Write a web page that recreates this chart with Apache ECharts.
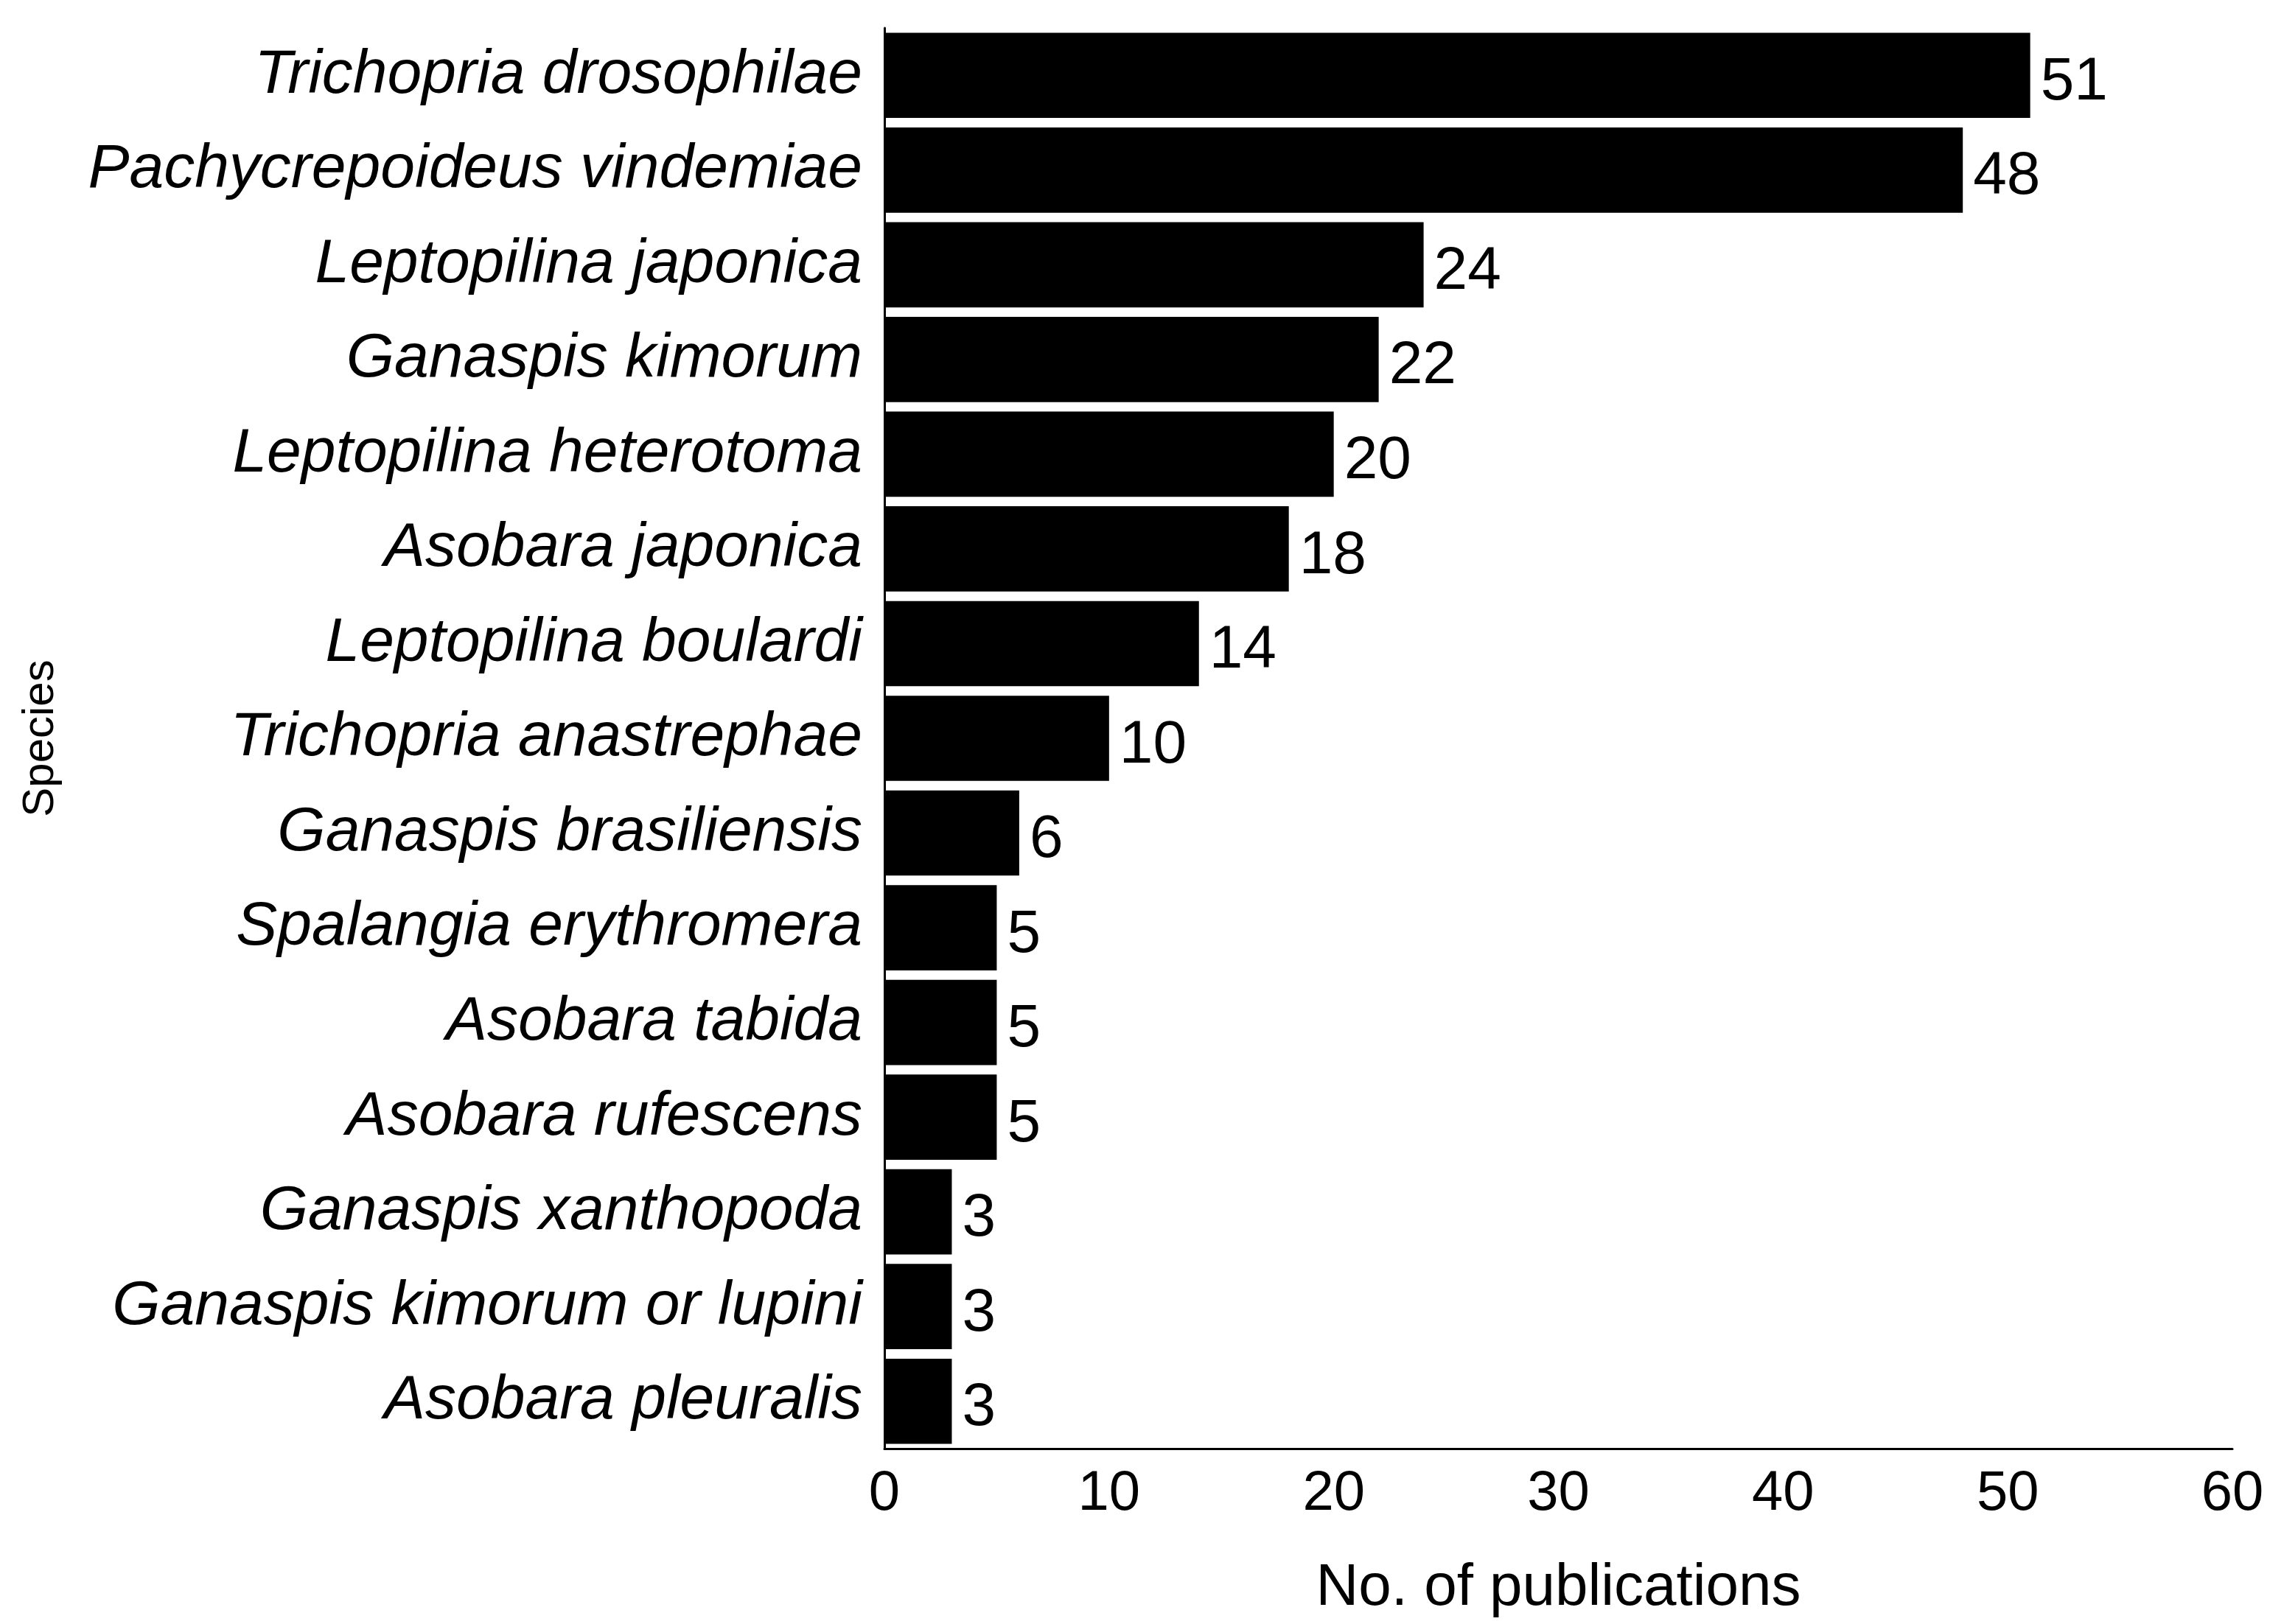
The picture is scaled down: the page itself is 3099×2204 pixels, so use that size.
<!DOCTYPE html>
<html><head><meta charset="utf-8">
<script src="https://cdn.jsdelivr.net/npm/echarts@6/dist/echarts.min.js"></script>
<style>html,body{margin:0;padding:0;background:#fff}#c{width:3099px;height:2204px}</style>
</head><body><div id="c"></div>
<script>
const species = ["Trichopria drosophilae","Pachycrepoideus vindemiae","Leptopilina japonica","Ganaspis kimorum","Leptopilina heterotoma","Asobara japonica","Leptopilina boulardi","Trichopria anastrephae","Ganaspis brasiliensis","Spalangia erythromera","Asobara tabida","Asobara rufescens","Ganaspis xanthopoda","Ganaspis kimorum or lupini","Asobara pleuralis"];
const counts = [51,48,24,22,20,18,14,10,6,5,5,5,3,3,3];
const xTicks = [0,10,20,30,40,50,60];
const chart = echarts.init(document.getElementById('c'));
const F = 'Liberation Sans, Arial, sans-serif';
chart.setOption({
  animation:false,
  grid:{left:1200,right:70,top:38,bottom:238},
  xAxis:{type:'value',min:xTicks[0],max:xTicks[xTicks.length-1],interval:10,
    name:'No. of publications',nameLocation:'middle',nameGap:150,
    nameTextStyle:{fontFamily:F,fontSize:80,color:'#000'},
    axisLine:{show:true,lineStyle:{color:'#000',width:3}},axisTick:{show:false},
    splitLine:{show:false},
    axisLabel:{fontFamily:F,fontSize:76,color:'#000',margin:24}},
  yAxis:{type:'category',inverse:true,data:species,
    name:'Species',nameLocation:'middle',nameGap:1115,nameRotate:90,
    nameTextStyle:{fontFamily:F,fontSize:60,color:'#000'},
    axisLine:{show:true,lineStyle:{color:'#000',width:3}},axisTick:{show:false},
    axisLabel:{fontFamily:F,fontSize:84,fontStyle:'italic',color:'#000',margin:30}},
  series:[{type:'bar',data:counts,barCategoryGap:'10%',itemStyle:{color:'#000'},
    label:{show:true,position:'right',distance:14,fontFamily:F,fontSize:82,color:'#000',offset:[0,10]}}]
});
</script></body></html>
